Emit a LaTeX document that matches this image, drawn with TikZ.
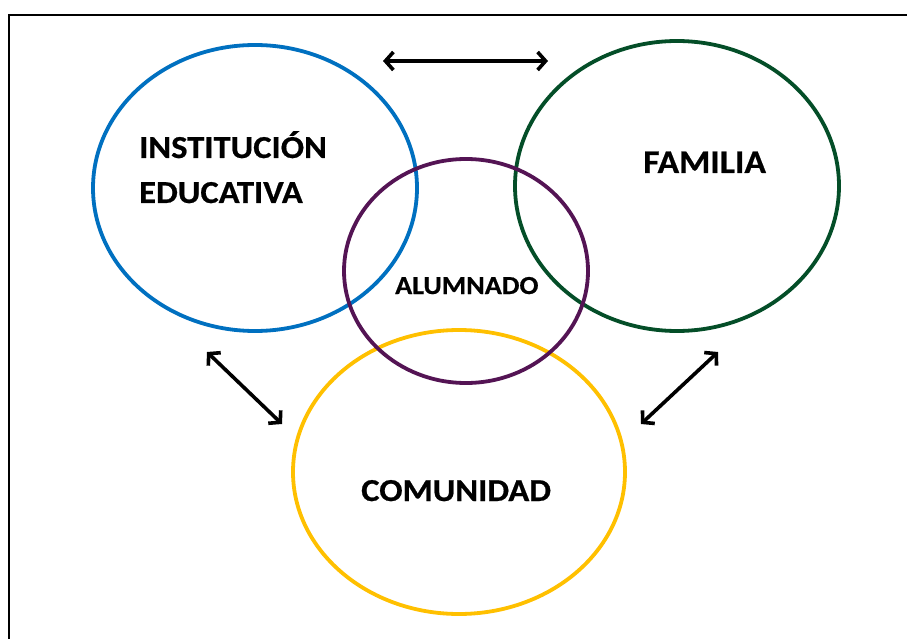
\documentclass[tikz,border=0pt]{standalone}
\usepackage{fontspec}
\setmainfont{Carlito}[BoldFeatures={FakeStretch=1.08,FakeBold=0.6}]
\usetikzlibrary{shapes.geometric,arrows.meta}
\definecolor{cblue}{RGB}{0,112,192}
\definecolor{cgreen}{RGB}{4,78,40}
\definecolor{cpurple}{RGB}{84,20,84}
\definecolor{cyellow}{RGB}{255,192,0}
\tikzset{
  ring/.style={ellipse, draw, line width=3.8pt, inner sep=0pt},
  lbl/.style={font=\bfseries\fontsize{#1}{#1}\selectfont, inner sep=0pt, anchor=base west},
  dblarrow/.style={line width=3.6pt, {Straight Barb[length=8pt,width=18pt]}-{Straight Barb[length=8pt,width=18pt]}}
}
\begin{document}
\begin{tikzpicture}[x=1pt,y=-1pt]
\useasboundingbox (0,0) rectangle (907,639);
\fill[white] (0,0) rectangle (907,639);
\draw[line width=2.2pt, line cap=rect] (9,639) -- (9,15) -- (907,15);
% ellipses
\node[ring, draw=cblue, minimum width=324pt, minimum height=286pt] (inst) at (255,188) {};
\node[ring, draw=cgreen, minimum width=324pt, minimum height=290pt] (fam) at (677,186) {};
\node[ring, draw=cyellow, minimum width=332pt, minimum height=284pt] (com) at (459,472) {};
\node[ring, draw=cpurple, minimum width=244pt, minimum height=224pt] (alu) at (466,271) {};
% labels
\node[lbl=32] (t1) at (139,158) {INSTITUCIÓN};
\node[lbl=32] (t2) at (139,203) {EDUCATIVA};
\node[lbl=33] (t3) at (643,173) {FAMILIA};
\node[lbl=26] (t4) at (395,294) {ALUMNADO};
\node[lbl=32] (t5) at (361,501) {COMUNIDAD};
% arrows
\coordinate (a1) at (383,61);
\coordinate (a2) at (548,61);
\coordinate (b1) at (207,352);
\coordinate (b2) at (282,424);
\coordinate (c1) at (718,352);
\coordinate (c2) at (641,424);
\draw[dblarrow] (a1) -- (a2);
\draw[dblarrow] (b1) -- (b2);
\draw[dblarrow] (c1) -- (c2);
\end{tikzpicture}
\end{document}
